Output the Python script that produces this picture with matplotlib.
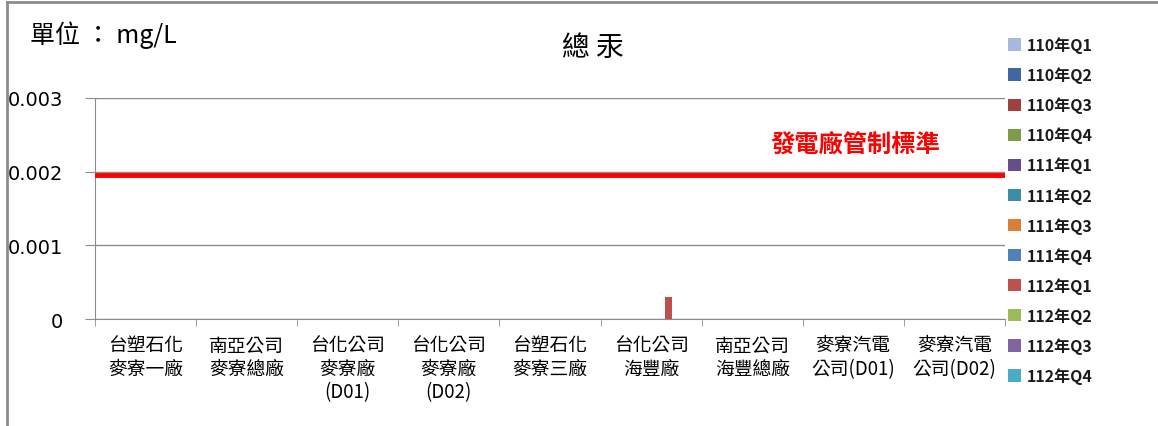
import matplotlib
matplotlib.use("Agg")
import matplotlib.pyplot as plt
import numpy as np
from matplotlib.lines import Line2D

plt.rcParams['font.family'] = ['Noto Sans CJK TC', 'DejaVu Sans']

categories = ["台塑石化\n麥寮一廠", "南亞公司\n麥寮總廠", "台化公司\n麥寮廠\n(D01)",
              "台化公司\n麥寮廠\n(D02)", "台塑石化\n麥寮三廠", "台化公司\n海豐廠",
              "南亞公司\n海豐總廠", "麥寮汽電\n公司(D01)", "麥寮汽電\n公司(D02)"]
series_names = ["110年Q1", "110年Q2", "110年Q3", "110年Q4", "111年Q1", "111年Q2",
                "111年Q3", "111年Q4", "112年Q1", "112年Q2", "112年Q3", "112年Q4"]
series_colors = ["#A7B9DA", "#3F67A1", "#A0413E", "#7E9B45", "#664E8A", "#3A8FA6",
                 "#D98036", "#4F81BD", "#C0504D", "#9BBB59", "#8064A2", "#4BACC6"]
# values per series (mg/L); zero where no bar visible
values = {name: [0.0] * 9 for name in series_names}
values["112年Q1"] = [0, 0, 0, 0, 0, 0.0003, 0, 0, 0]
standard = 0.00196
standard_label = "發電廠管制標準"
yticks = [0, 0.001, 0.002, 0.003]
ytick_labels = ["0", "0.001", "0.002", "0.003"]

fig = plt.figure(figsize=(11.58, 4.27), dpi=100)
ax = fig.add_axes([95/1158, 1-320/427, 910/1158, 221/427])

n = len(series_names)
x = np.arange(len(categories))
group = 0.83
w = group / n
for i, name in enumerate(series_names):
    ax.bar(x + (i - (n-1)/2) * w, values[name], width=w, color=series_colors[i],
           label=name, zorder=3)

ax.axhline(standard, color="#FF0000", lw=3.5, zorder=4)
ax.text(7.02, 0.00238, standard_label, color="#FF0000", fontsize=17.5, fontweight='bold',
        ha='center', va='center')

ax.set_xlim(-0.5, len(categories) - 0.5)
ax.set_ylim(0, 0.003)
ax.set_yticks(yticks)
ax.set_yticklabels(ytick_labels, family='DejaVu Sans', fontsize=14)
ax.yaxis.grid(True, color="#8C8C8C", lw=1, zorder=0)
ax.set_xticks(x)
ax.set_xticklabels(categories, fontsize=13.5, linespacing=1.15)
ax.set_xticks(np.arange(len(categories) + 1) - 0.5, minor=True)
ax.tick_params(axis='x', which='major', length=0, pad=11)
ax.tick_params(axis='x', which='minor', length=5, color="#8C8C8C")
ax.tick_params(axis='y', length=7, color="#8C8C8C", pad=16)
for s in ['top', 'right']:
    ax.spines[s].set_visible(False)
for s in ['left', 'bottom']:
    ax.spines[s].set_color("#8C8C8C")

fig.text(593/1158, 1-48/427, "總 汞", fontsize=20, ha='center', va='center')
fig.text(30/1158, 1-35/427, "單位 ： mg/L", fontsize=18, ha='left', va='center')

leg = fig.legend(loc='upper left', bbox_to_anchor=(1002/1158, 1-31/427), frameon=False,
                 fontsize=11.5, handlelength=0.8, handleheight=0.8, labelspacing=0.84,
                 handletextpad=0.35, borderaxespad=0)
for t in leg.get_texts():
    t.set_fontweight('bold')
    t.set_color('#1A1A1A')

fig.add_artist(Line2D([7/1158, 7/1158], [0, 1-3/427], transform=fig.transFigure,
                      color="#8C8C8C", lw=2))
fig.add_artist(Line2D([7/1158, 1], [1-3/427, 1-3/427], transform=fig.transFigure,
                      color="#8C8C8C", lw=2))

fig.savefig("out.png", dpi=100)
